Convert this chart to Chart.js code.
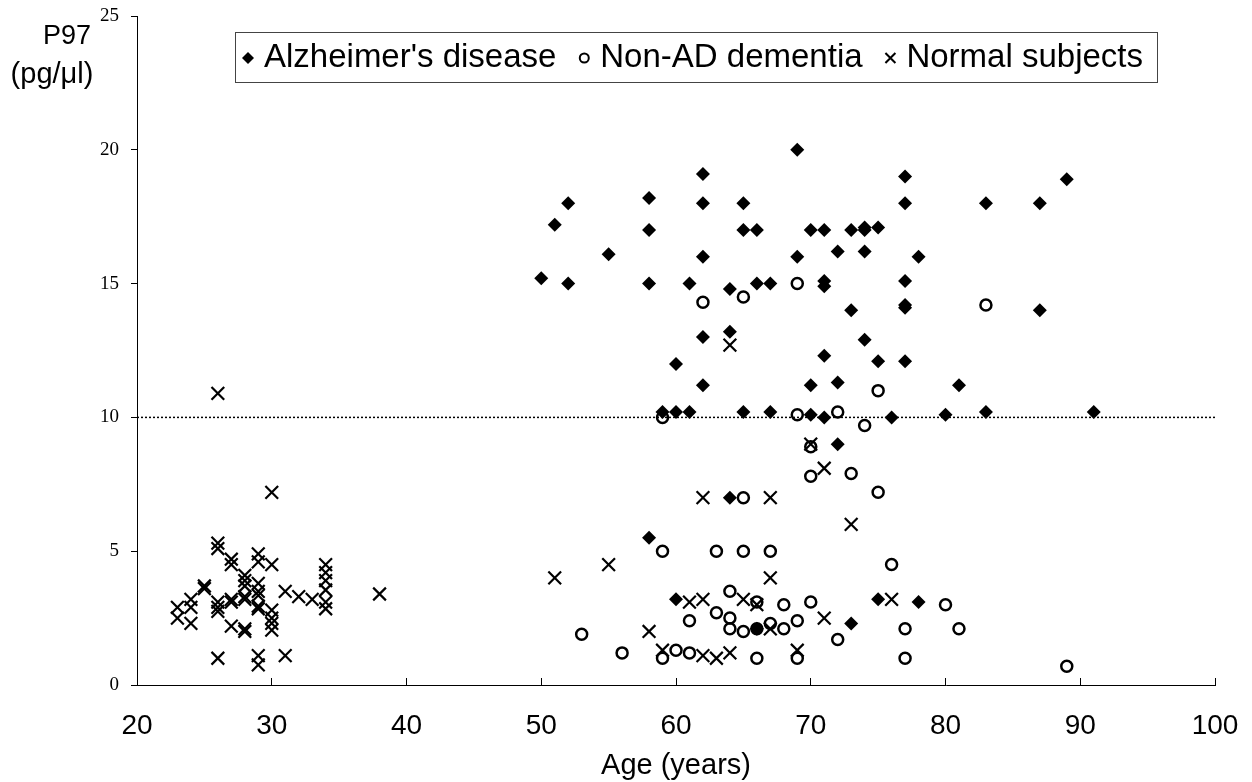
<!DOCTYPE html>
<html>
<head>
<meta charset="utf-8">
<script src="https://cdn.jsdelivr.net/npm/chart.js@4.4.1/dist/chart.umd.min.js"></script>
<style>
  body { margin: 0; background: #fff; }
</style>
</head>
<body>
<canvas id="myChart" width="1252" height="782"></canvas>
<script>
    // Alzheimer's disease
    const adAge = [50, 51, 52, 52, 55, 58, 58, 58, 58, 59, 60, 60, 60, 61, 61, 62, 62, 62, 62, 62,
        64, 64, 64, 65, 65, 65, 66, 66, 66, 67, 67, 69, 69, 70, 70, 70, 71, 71, 71, 71, 71,
        72, 72, 72, 73, 73, 73, 74, 74, 74, 74, 75, 75, 75, 76, 77, 77, 77, 77, 77, 77,
        78, 78, 80, 81, 83, 83, 87, 87, 89, 91];
    const adP97 = [15.2, 17.2, 18.0, 15.0, 16.1, 18.2, 17.0, 15.0, 5.5, 10.2, 12.0, 10.2, 3.2, 15.0, 10.2, 19.1, 18.0, 16.0, 13.0, 11.2,
        14.8, 13.2, 7.0, 18.0, 17.0, 10.2, 17.0, 15.0, 2.1, 15.0, 10.2, 20.0, 16.0, 17.0, 11.2, 10.1, 17.0, 15.1, 14.9, 12.3, 10.0,
        16.2, 11.3, 9.0, 17.0, 14.0, 2.3, 17.1, 17.0, 16.2, 12.9, 17.1, 12.1, 3.2, 10.0, 19.0, 18.0, 15.1, 14.2, 14.1, 12.1,
        16.0, 3.1, 10.1, 11.2, 18.0, 10.2, 18.0, 14.0, 18.9, 10.2];

    // Non-AD dementia
    const ndAge = [53, 56, 59, 59, 59, 60, 61, 61, 62, 63, 63, 64, 64, 64, 65, 65, 65, 65, 66, 66, 66,
        67, 67, 68, 68, 69, 69, 69, 69, 70, 70, 70, 72, 72, 73, 74, 75, 75, 76, 77, 77, 80, 81, 83, 89];
    const ndP97 = [1.9, 1.2, 10.0, 5.0, 1.0, 1.3, 2.4, 1.2, 14.3, 5.0, 2.7, 3.5, 2.5, 2.1, 14.5, 7.0, 5.0, 2.0, 3.1, 2.1, 1.0,
        5.0, 2.3, 3.0, 2.1, 15.0, 10.1, 2.4, 1.0, 8.9, 7.8, 3.1, 10.2, 1.7, 7.9, 9.7, 11.0, 7.2, 4.5, 2.1, 1.0, 3.0, 2.1, 14.2, 0.7];

    // Normal subjects
    const nsAge = [23, 23, 24, 24, 24, 25, 25, 26, 26, 26, 26, 26, 26, 26, 27, 27, 27, 27, 27,
        28, 28, 28, 28, 28, 28, 28, 29, 29, 29, 29, 29, 29, 29, 29, 29, 30, 30, 30, 30, 30, 30,
        31, 31, 32, 33, 34, 34, 34, 34, 34, 34, 38,
        51, 55, 58, 59, 61, 62, 62, 62, 63, 64, 64, 65, 66, 67, 67, 67, 69, 70, 71, 71, 73, 76];
    const nsP97 = [2.9, 2.5, 3.2, 2.9, 2.3, 3.7, 3.6, 5.3, 5.1, 3.1, 2.9, 2.75, 1.0, 10.9, 4.7, 4.5, 3.2, 3.1, 2.2,
        4.1, 3.9, 3.7, 3.3, 3.2, 2.1, 2.0, 4.9, 4.6, 3.8, 3.5, 3.35, 2.95, 2.85, 1.1, 0.75, 7.2, 4.5, 2.8, 2.5, 2.3, 2.05,
        3.5, 1.1, 3.3, 3.2, 4.5, 4.2, 3.9, 3.55, 3.1, 2.85, 3.4,
        4.0, 4.5, 2.0, 1.3, 3.1, 3.2, 7.0, 1.1, 1.0, 12.7, 1.2, 3.2, 3.0, 7.0, 4.0, 2.1, 1.3, 9.0, 8.1, 2.5, 6.0, 3.2];

    const cutoff = 10;
    const xRange = [20, 100];
    const yRange = [0, 25];
    const legendLabels = ["Alzheimer's disease", "Non-AD dementia", "Normal subjects"];

    const sans = "'Liberation Sans', Arial, Helvetica, sans-serif";
    const serif = "'Liberation Serif', 'Times New Roman', serif";

    function pairs(xs, ys) {
        return xs.map((x, i) => ({ x: x, y: ys[i] }));
    }

    // scales: fixed size, no extra padding for their labels
    function fixScale(s, w, h) {
        if (w) s.width = w;
        if (h) s.height = h;
        s.paddingTop = 0; s.paddingBottom = 0;
        s.paddingLeft = 0; s.paddingRight = 0;
    }

    function drawMarker(c, kind, x, y) {
        c.beginPath();
        if (kind === 0) {
            c.moveTo(x - 6, y); c.lineTo(x, y - 6); c.lineTo(x + 6, y); c.lineTo(x, y + 6);
            c.closePath(); c.fill();
        } else if (kind === 1) {
            c.lineWidth = 2; c.arc(x, y, 4.5, 0, Math.PI * 2); c.stroke();
        } else {
            c.lineWidth = 2;
            c.moveTo(x - 5, y - 5); c.lineTo(x + 5, y + 5);
            c.moveTo(x + 5, y - 5); c.lineTo(x - 5, y + 5); c.stroke();
        }
    }

    const textPlugin = {
        id: 'texts',
        afterDraw(chart) {
            const c = chart.ctx, area = chart.chartArea;
            c.save();
            c.fillStyle = '#000';
            c.strokeStyle = '#000';
            c.textAlign = 'center';
            c.textBaseline = 'middle';
            c.font = '27px ' + sans;
            c.fillText('P97', 67, 37);
            c.font = '29px ' + sans;
            c.fillText('(pg/\u03bcl)', 52, 75);
            c.font = '29px ' + sans;
            c.fillText('Age (years)', (area.left + area.right) / 2, 766);

            // legend box inside the plot
            const bx = 235, by = 32, bw = 922, bh = 50;
            c.lineWidth = 1;
            c.strokeStyle = '#444';
            c.strokeRect(bx + 0.5, by + 0.5, bw, bh);
            c.strokeStyle = '#000';
            c.font = '33px ' + sans;
            const mw = 14, mg = 9;
            const widths = legendLabels.map(t => c.measureText(t).width);
            const total = widths.reduce((a, b) => a + b, 0) + legendLabels.length * (mw + mg);
            const lp = 6, rp = 14;
            const gap = (bw - lp - rp - total) / (legendLabels.length - 1);
            let x = bx + lp;
            const cy = by + bh / 2 + 1;
            c.textAlign = 'left';
            legendLabels.forEach((t, i) => {
                drawMarker(c, i, x + mw / 2, cy);
                c.fillText(t, x + mw + mg, cy);
                x += mw + mg + widths[i] + gap;
            });
            c.restore();
        }
    };

    const ctx = document.getElementById('myChart').getContext('2d');
    const myChart = new Chart(ctx, {
        type: 'scatter',
        data: {
            datasets: [
                {
                    label: legendLabels[0],
                    data: pairs(adAge, adP97),
                    pointStyle: 'rectRot',
                    pointRadius: 7,
                    backgroundColor: '#000',
                    borderColor: '#000',
                    borderWidth: 0
                },
                {
                    label: legendLabels[1],
                    data: pairs(ndAge, ndP97),
                    pointStyle: 'circle',
                    pointRadius: 5.5,
                    backgroundColor: 'rgba(0,0,0,0)',
                    borderColor: '#000',
                    borderWidth: 2.5
                },
                {
                    label: legendLabels[2],
                    data: pairs(nsAge, nsP97),
                    pointStyle: 'crossRot',
                    pointRadius: 9,
                    borderColor: '#000',
                    borderWidth: 2.2
                },
                {
                    type: 'line',
                    label: 'cutoff',
                    data: [{ x: xRange[0], y: cutoff }, { x: xRange[1], y: cutoff }],
                    borderColor: '#000',
                    borderWidth: 1.5,
                    borderDash: [2, 2],
                    pointRadius: 0,
                    order: 10
                }
            ]
        },
        options: {
            responsive: false,
            animation: false,
            devicePixelRatio: 1,
            layout: { autoPadding: false, padding: { top: 16, right: 37, left: 0, bottom: 0 } },
            plugins: {
                legend: { display: false },
                tooltip: { enabled: false }
            },
            scales: {
                x: {
                    type: 'linear',
                    min: xRange[0],
                    max: xRange[1],
                    ticks: { stepSize: 10, color: '#000', font: { family: sans, size: 28 }, padding: 31 },
                    grid: { drawOnChartArea: false, tickLength: -7, color: '#000' },
                    border: { color: '#000' },
                    afterFit: s => fixScale(s, 0, 97)
                },
                y: {
                    min: yRange[0],
                    max: yRange[1],
                    ticks: { stepSize: 5, color: '#000', font: { family: serif, size: 19 }, padding: 12 },
                    grid: { drawOnChartArea: false, tickLength: 6, color: '#000' },
                    border: { color: '#000' },
                    afterFit: s => fixScale(s, 137, 0)
                }
            }
        },
        plugins: [textPlugin]
    });
</script>
</body>
</html>
